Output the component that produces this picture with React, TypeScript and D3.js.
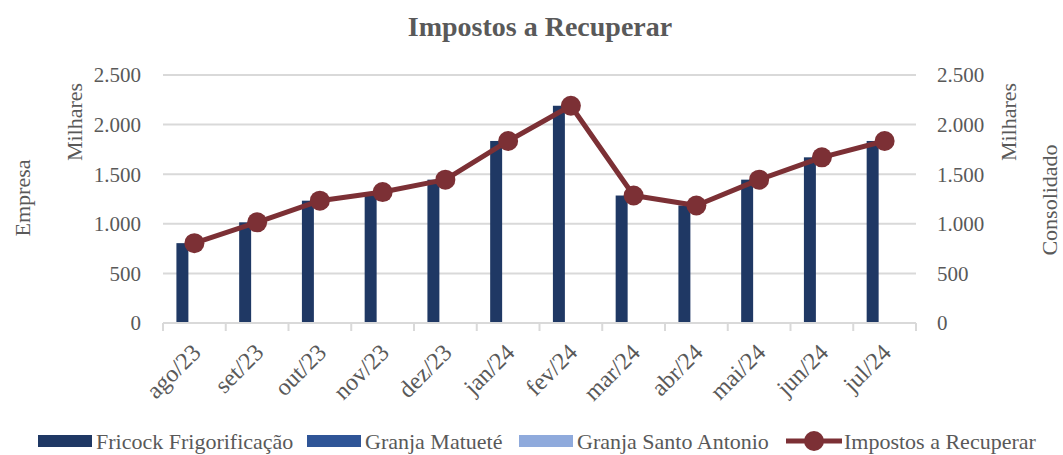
import React, { useEffect, useRef } from "react";
import * as d3 from "d3";

const categories = ["ago/23", "set/23", "out/23", "nov/23", "dez/23", "jan/24", "fev/24", "mar/24", "abr/24", "mai/24", "jun/24", "jul/24"];
const fricock = [805, 1015, 1233, 1320, 1445, 1835, 2190, 1285, 1185, 1445, 1670, 1835];
const granjaMatuete = [0, 0, 0, 0, 0, 0, 0, 0, 0, 0, 0, 0];
const granjaSantoAntonio = [0, 0, 0, 0, 0, 0, 0, 0, 0, 0, 0, 0];
const impostos = [805, 1015, 1233, 1320, 1445, 1835, 2190, 1285, 1185, 1445, 1670, 1835];
const yTicks = [0, 500, 1000, 1500, 2000, 2500];

const barSeries = [
  { name: "Fricock Frigorificação", values: fricock, color: "#1F3864" },
  { name: "Granja Matueté", values: granjaMatuete, color: "#2F5597" },
  { name: "Granja Santo Antonio", values: granjaSantoAntonio, color: "#8FAADC" },
];
const lineColor = "#7C3035";
const font = "'Liberation Serif', 'DejaVu Serif', serif";
const textColor = "#595959";

export default function App() {
  const ref = useRef<SVGSVGElement>(null);

  useEffect(() => {
    const svg = d3.select(ref.current);
    svg.selectAll("*").remove();

    const width = 1063;
    const height = 455;
    const margin = { top: 75, right: 147, bottom: 132, left: 163 };
    const chartWidth = width - margin.left - margin.right;
    const chartHeight = height - margin.top - margin.bottom;

    svg.append("rect").attr("width", width).attr("height", height).attr("fill", "#fff");

    // title
    svg.append("text")
      .attr("x", 540)
      .attr("y", 36)
      .attr("text-anchor", "middle")
      .style("font-family", font)
      .style("font-weight", "bold")
      .style("font-size", "28px")
      .attr("fill", textColor)
      .text("Impostos a Recuperar");

    const g = svg.append("g").attr("transform", `translate(${margin.left}, ${margin.top})`);

    const x = d3.scaleBand().domain(categories).range([0, chartWidth]).padding(0);
    const xInner = d3.scaleBand()
      .domain(barSeries.map((s) => s.name))
      .range([0, x.bandwidth()])
      .paddingInner(0)
      .paddingOuter(1.12);
    const yLeft = d3.scaleLinear().domain([0, 2500]).range([chartHeight, 0]);
    const yRight = d3.scaleLinear().domain([0, 2500]).range([chartHeight, 0]);

    // gridlines
    g.append("g")
      .selectAll("line")
      .data(yTicks.filter((d) => d > 0))
      .enter()
      .append("line")
      .attr("x1", 0)
      .attr("x2", chartWidth)
      .attr("y1", (d) => yLeft(d))
      .attr("y2", (d) => yLeft(d))
      .attr("stroke", "#D9D9D9")
      .attr("stroke-width", 2);

    // bars
    barSeries.forEach((s) => {
      g.append("g")
        .selectAll("rect")
        .data(s.values)
        .enter()
        .append("rect")
        .attr("x", (d, i) => (x(categories[i]) as number) + (xInner(s.name) as number))
        .attr("y", (d) => yLeft(d))
        .attr("width", xInner.bandwidth())
        .attr("height", (d) => chartHeight - yLeft(d))
        .attr("fill", s.color);
    });

    // x axis
    const xAxis = g.append("g").attr("transform", `translate(0, ${chartHeight})`);
    xAxis.append("line")
      .attr("x1", 0)
      .attr("x2", chartWidth)
      .attr("stroke", "#D9D9D9")
      .attr("stroke-width", 2);
    xAxis.selectAll(".tick")
      .data([...categories.map((c) => x(c) as number), chartWidth])
      .enter()
      .append("line")
      .attr("x1", (d) => d)
      .attr("x2", (d) => d)
      .attr("y1", 0)
      .attr("y2", 8)
      .attr("stroke", "#D9D9D9")
      .attr("stroke-width", 2);
    xAxis.selectAll(".lbl")
      .data(categories)
      .enter()
      .append("text")
      .attr("transform", (d) => `translate(${(x(d) as number) + x.bandwidth() / 2 - 4}, 19) rotate(-45)`)
      .attr("text-anchor", "end")
      .attr("dy", "0.7em")
      .style("font-family", font)
      .style("font-size", "24px")
      .attr("fill", textColor)
      .text((d) => d);

    // left axis labels
    g.append("g")
      .selectAll("text")
      .data(yTicks)
      .enter()
      .append("text")
      .attr("x", -22)
      .attr("y", (d) => yLeft(d))
      .attr("dy", "0.35em")
      .attr("text-anchor", "end")
      .style("font-family", font)
      .style("font-size", "21px")
      .attr("fill", textColor)
      .text((d) => d3.format(",")(d).replace(",", "."));

    // right axis labels
    g.append("g")
      .selectAll("text")
      .data(yTicks)
      .enter()
      .append("text")
      .attr("x", chartWidth + 21)
      .attr("y", (d) => yRight(d))
      .attr("dy", "0.35em")
      .attr("text-anchor", "start")
      .style("font-family", font)
      .style("font-size", "21px")
      .attr("fill", textColor)
      .text((d) => d3.format(",")(d).replace(",", "."));

    // axis titles
    const axisTitle = (tx: number, ty: number, label: string) =>
      svg.append("text")
        .attr("transform", `translate(${tx}, ${ty}) rotate(-90)`)
        .attr("text-anchor", "middle")
        .style("font-family", font)
        .style("font-size", "22px")
        .attr("fill", textColor)
        .text(label);
    axisTitle(82, 122, "Milhares");
    axisTitle(30, 198, "Empresa");
    axisTitle(1016, 122, "Milhares");
    axisTitle(1057, 200, "Consolidado");

    // line
    const line = d3.line<number>()
      .x((d, i) => (x(categories[i]) as number) + x.bandwidth() / 2)
      .y((d) => yRight(d));
    g.append("path")
      .datum(impostos)
      .attr("d", line)
      .attr("fill", "none")
      .attr("stroke", lineColor)
      .attr("stroke-width", 5)
      .attr("stroke-linejoin", "round");
    g.append("g")
      .selectAll("circle")
      .data(impostos)
      .enter()
      .append("circle")
      .attr("cx", (d, i) => (x(categories[i]) as number) + x.bandwidth() / 2)
      .attr("cy", (d) => yRight(d))
      .attr("r", 10)
      .attr("fill", lineColor);

    // legend
    const legendY = 441;
    const legendItems = [
      { x: 38, label: barSeries[0].name, color: barSeries[0].color, type: "bar" },
      { x: 307, label: barSeries[1].name, color: barSeries[1].color, type: "bar" },
      { x: 519, label: barSeries[2].name, color: barSeries[2].color, type: "bar" },
      { x: 786, label: "Impostos a Recuperar", color: lineColor, type: "line" },
    ];
    legendItems.forEach((item) => {
      const lg = svg.append("g").attr("transform", `translate(${item.x}, ${legendY})`);
      if (item.type === "bar") {
        lg.append("rect").attr("x", 0).attr("y", -6).attr("width", 54).attr("height", 12).attr("fill", item.color);
      } else {
        lg.append("line").attr("x1", 0).attr("x2", 56).attr("stroke", item.color).attr("stroke-width", 5);
        lg.append("circle").attr("cx", 28).attr("r", 10).attr("fill", item.color);
      }
      lg.append("text")
        .attr("x", 58)
        .attr("y", 0)
        .attr("dy", "0.35em")
        .style("font-family", font)
        .style("font-size", "22px")
        .attr("fill", textColor)
        .text(item.label);
    });
  }, []);

  return (
    <div style={{ position: "absolute", left: 0, top: 0 }}>
      <svg ref={ref} width={1063} height={455} style={{ display: "block" }} />
    </div>
  );
}
